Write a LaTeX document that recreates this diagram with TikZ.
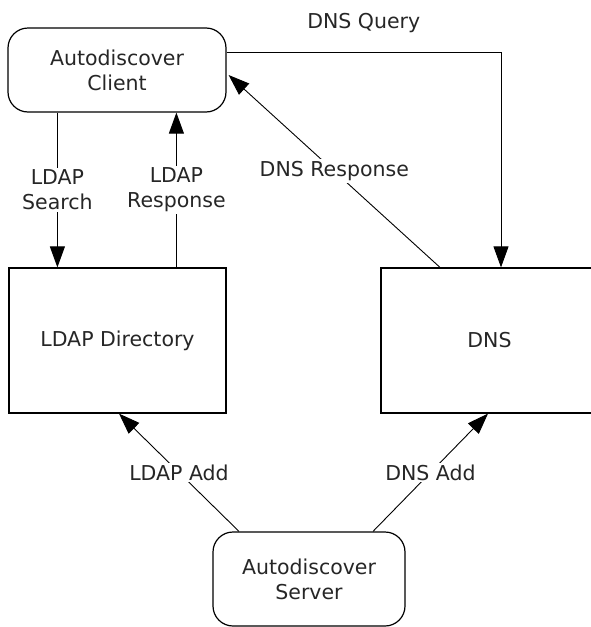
\documentclass[tikz,border=0pt]{standalone}
\usepackage{fontspec}
\setmainfont{DejaVu Sans}
\usetikzlibrary{arrows.meta,positioning}

\begin{document}
\begin{tikzpicture}
[x=1pt,y=-1pt,>={Triangle[length=21pt,width=15pt]},
 every node/.style = {font=\fontsize{20.5}{25}\selectfont, align=center, text=black!85},
 rbox/.style = {draw, line width=1.2pt, rounded corners=20pt, minimum width=218pt, minimum height=84pt},
 sbox/.style = {draw, line width=1.2pt, minimum width=217pt, minimum height=145pt},
 conn/.style = {line width=0.9pt},
 lbl/.style = {fill=white, inner sep=2pt},]
\clip (0,0) rectangle (591,627);
\node (client) at (117,70)[rbox] {Autodiscover\\Client};
\node (dir) at (117.5,340.5)[sbox] {LDAP Directory};
\node (dns) at (489.5,340.5)[sbox] {DNS};
\node (server) at (309,579)[rbox, minimum width=192pt, minimum height=94pt] {Autodiscover\\Server};
\draw[conn,->] ([xshift=50pt]client.south west) -- node[lbl] {LDAP\\Search} ([xshift=49pt]dir.north west);
\draw[conn,->] ([xshift=168pt]dir.north west) -- node[lbl] {LDAP\\Response} ([xshift=169pt]client.south west);
\draw[conn,->] ([yshift=18pt]client.east) -| node[pos=0.25, above=15pt] {DNS Query} ([xshift=11.5pt]dns.north);
\draw[conn,->] ([xshift=-49.5pt]dns.north) -- node[lbl] {DNS Response} ([xshift=2pt,yshift=-5pt]client.east);
\draw[conn,->] ([xshift=-70pt]server.north) -- node[lbl] {LDAP Add} ([xshift=1.5pt]dir.south);
\draw[conn,->] ([xshift=64pt]server.north) -- node[lbl] {DNS Add} ([xshift=-1.5pt]dns.south);
\end{tikzpicture}
\end{document}
